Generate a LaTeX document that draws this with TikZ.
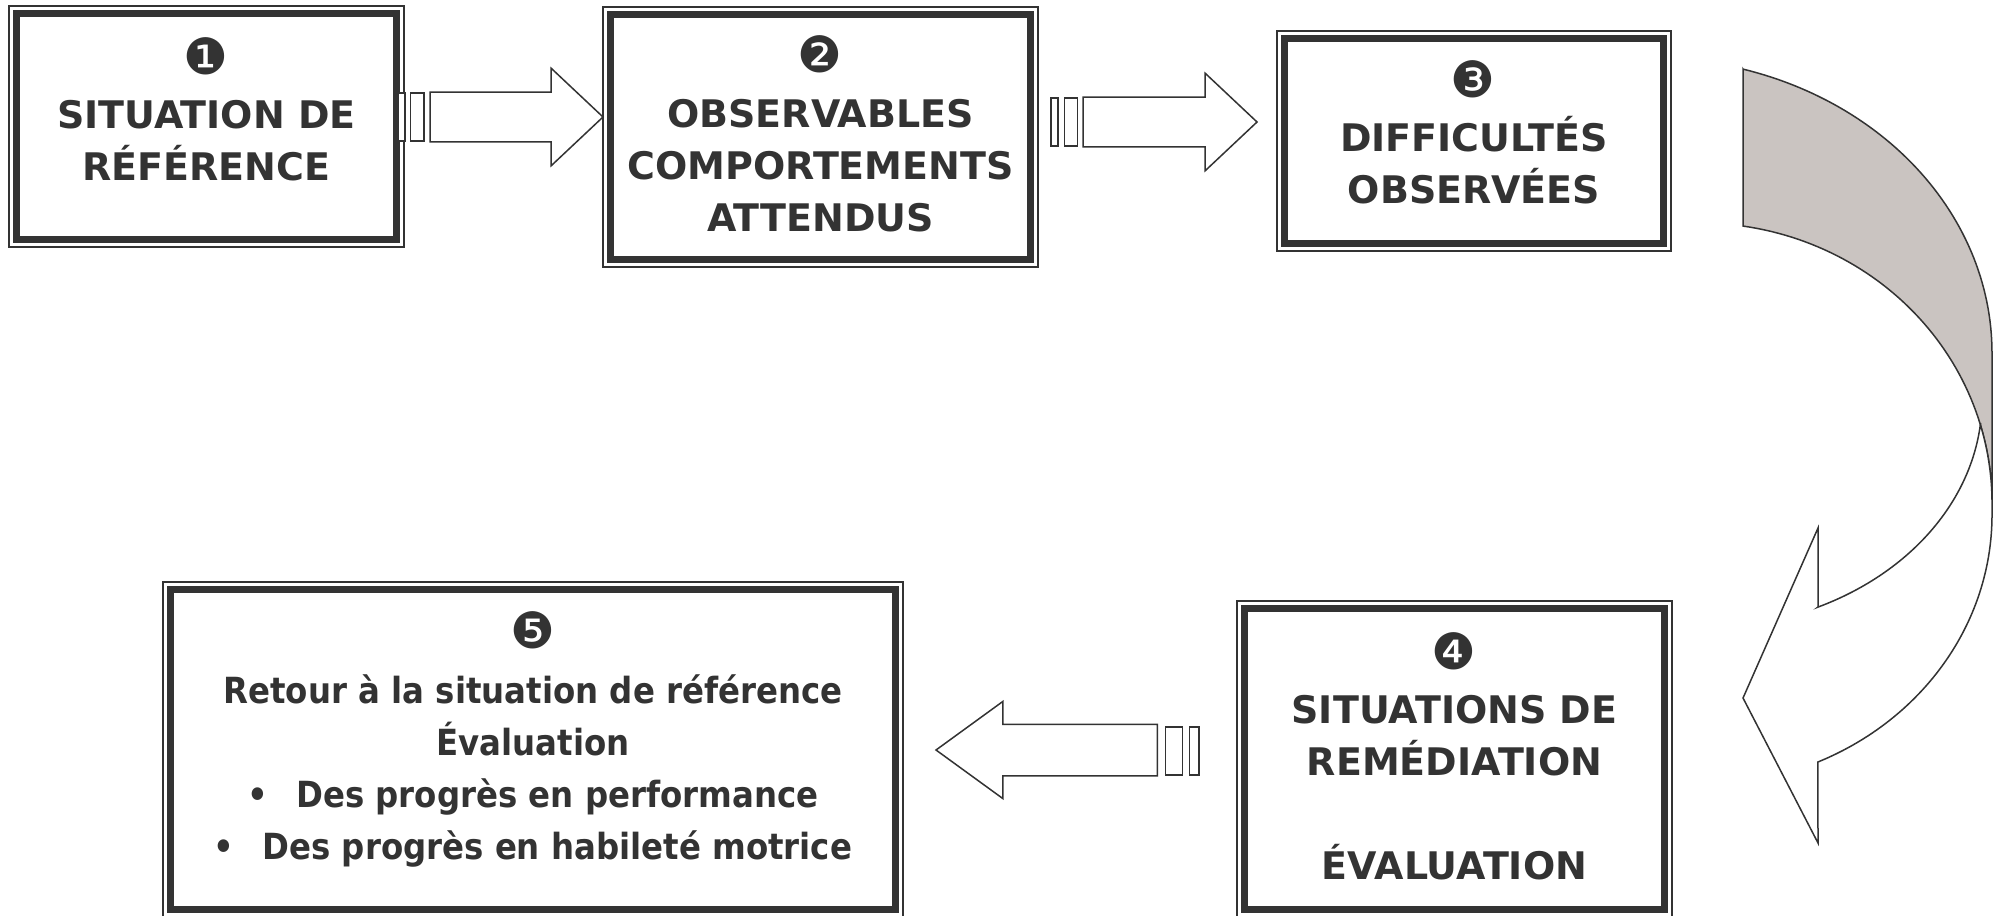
\documentclass[tikz,border=0pt]{standalone}
\usepackage{fontspec}
\setmainfont{DejaVu Sans}
\newfontfamily\narrowfont{DejaVu Sans}[FakeStretch=0.9]
\usetikzlibrary{shapes.arrows}
\definecolor{ink}{HTML}{333333}
\definecolor{backgray}{RGB}{202,196,193}
\newcommand\lnstrut{\vphantom{Ép}}
\begin{document}
\begin{tikzpicture}[x=0.5pt,y=-0.5pt,
  framebox/.style={rectangle, draw=ink, line width=3.5pt, inner sep=0pt, outer sep=0pt},
  outerframe/.style={draw=ink, line width=0.85pt},
  boxtext/.style={text=ink, font=\fontsize{19}{26}\selectfont\bfseries, align=center, inner sep=0pt},
  lowtext/.style={text=ink, font=\narrowfont\fontsize{18}{26}\selectfont\bfseries, align=center, inner sep=0pt},
  numtext/.style={text=ink, font=\fontsize{25}{27}\selectfont, inner sep=0pt},
  blockarrow/.style={single arrow, draw=ink, fill=white, line width=0.75pt, inner xsep=0pt, outer sep=0pt, single arrow head indent=0pt},
  barbox/.style={rectangle, draw=ink, fill=white, line width=0.75pt, inner sep=0pt, outer sep=0pt, minimum height=24pt},
  curveline/.style={draw=ink, line width=0.75pt, line join=miter}
]
\useasboundingbox (0,0) rectangle (2000,915);

% framed boxes
\node[framebox, minimum width=190pt,   minimum height=113pt]   (b1) at (206.5,126.5) {};
\node[framebox, minimum width=210pt,   minimum height=122.5pt] (b2) at (820.5,137) {};
\node[framebox, minimum width=189.5pt, minimum height=102.5pt] (b3) at (1474,141) {};
\node[framebox, minimum width=210pt,   minimum height=150.5pt] (b4) at (1454.5,759) {};
\node[framebox, minimum width=362.5pt, minimum height=160pt]   (b5) at (533,749.5) {};
\foreach \b in {b1,b2,b3,b4,b5}
  \draw[outerframe] ([shift={(-7.5,-7.5)}]\b.north west) rectangle ([shift={(7.5,7.5)}]\b.south east);

% numbers
\node[numtext] (n1) at (206,56) {❶};
\node[numtext] (n2) at (820,54) {❷};
\node[numtext] (n3) at (1473,79) {❸};
\node[numtext] (n4) at (1454,651) {❹};
\node[numtext] (n5) at (533,630) {❺};

% texts
\node[boxtext] (t1) at (206.5,140.5) {\lnstrut SITUATION DE\\RÉFÉRENCE\lnstrut};
\node[boxtext] (t2) at (820.5,166) {\lnstrut OBSERVABLES\\COMPORTEMENTS\\ATTENDUS\lnstrut};
\node[boxtext] (t3) at (1474,164) {\lnstrut DIFFICULTÉS\\OBSERVÉES\lnstrut};
\node[boxtext] (t4) at (1454.5,787.5) {\lnstrut SITUATIONS DE\\REMÉDIATION\\\mbox{}\\ÉVALUATION\lnstrut};
\node[lowtext] (t5) at (533,768.5) {\lnstrut Retour à la situation de référence\\Évaluation\\•\hspace{14pt}Des progrès en performance\\•\hspace{14pt}Des progrès en habileté motrice\lnstrut};

% block arrow 1 -> 2
\node[blockarrow, inner ysep=12pt, minimum height=86.5pt, single arrow head extend=12pt, single arrow tip angle=86.5, anchor=tip] (a12) at (603,117) {};
\node[barbox, minimum width=3.35pt] (a12p) at (401.7,117) {};
\node[barbox, minimum width=6.65pt] (a12q) at (417.3,117) {};

% block arrow 2 -> 3
\node[blockarrow, inner ysep=12pt, minimum height=87pt, single arrow head extend=12pt, single arrow tip angle=86.5, anchor=tip] (a23) at (1257,122) {};
\node[barbox, minimum width=3.35pt] (a23p) at (1054.4,122) {};
\node[barbox, minimum width=6.7pt] (a23q) at (1071,122) {};

% block arrow 4 -> 5
\node[blockarrow, shape border rotate=180, inner ysep=12.5pt, minimum height=110.65pt, single arrow head extend=11.4pt, single arrow tip angle=72, anchor=tip] (a45) at (936,750) {};
\node[barbox, minimum width=8.7pt] (a45q) at (1174,750.8) {};
\node[barbox, minimum width=4.85pt] (a45p) at (1194.2,750.8) {};

% curved arrow 3 -> 4 : back (shaded) part
\filldraw[curveline, fill=backgray] (1743,69)
  -- plot[domain=74.2:0, samples=60] ({1650+342*cos(\x)},{353-295*sin(\x)})
  -- (1992,503)
  -- plot[domain=0:81.5, samples=60] ({1700+292*cos(\x)},{503-280*sin(\x)})
  -- cycle;
% front part with head
\filldraw[curveline, fill=white]
  plot[domain=16:0, samples=20] ({1700+292*cos(\x)},{503-280*sin(\x)})
  -- (1992,515)
  -- plot[domain=0:66.2, samples=60] ({1700+292*cos(\x)},{515+270*sin(\x)})
  -- (1818,843) -- (1743,698) -- (1818,528) -- (1818,607)
  -- plot[domain=65.3:5.8, samples=60] ({1700+282*cos(\x)},{400+228*sin(\x)})
  -- cycle;
\end{tikzpicture}
\end{document}
